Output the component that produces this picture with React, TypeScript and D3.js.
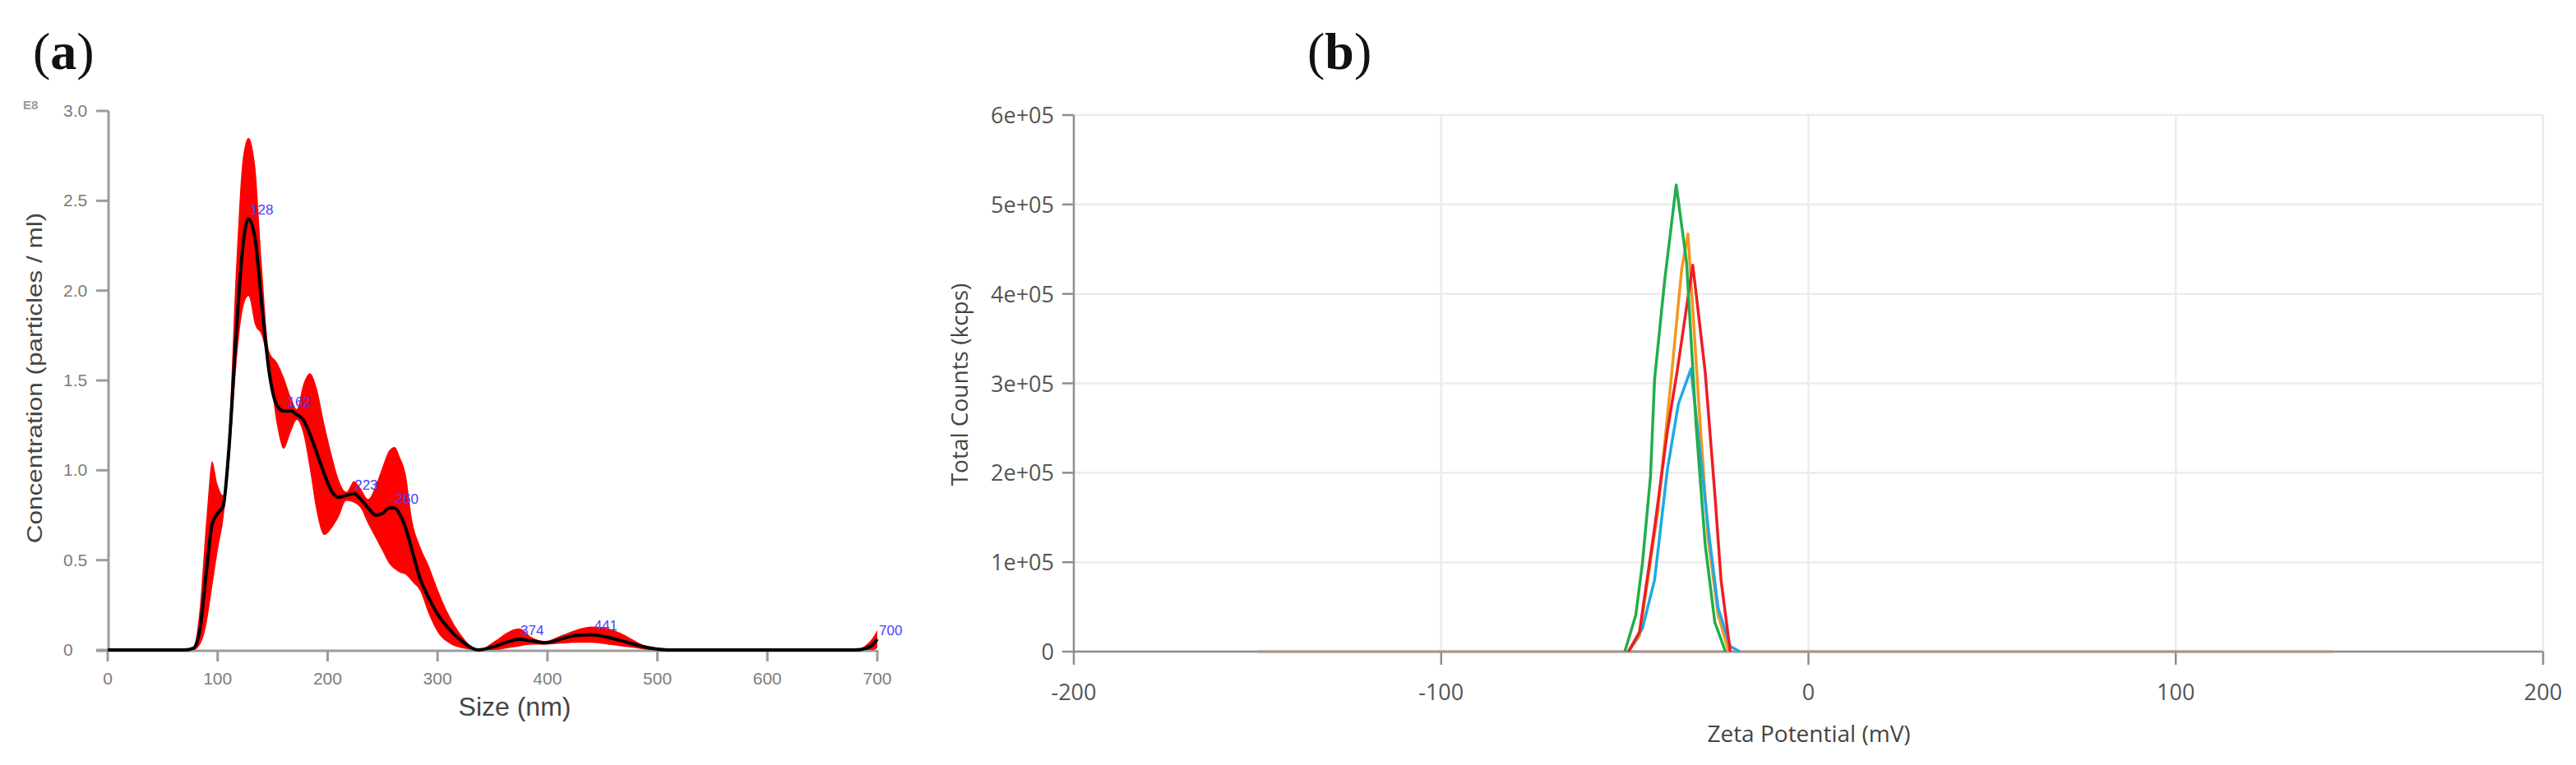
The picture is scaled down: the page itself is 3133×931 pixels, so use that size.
import React from 'react';
import * as d3 from 'd3';

//canvas
const width = 3133;
const height = 931;

// (a) size distribution, concentration in E8 particles / ml
const sizeNm = [0, 70, 78, 84, 90, 95, 100, 105, 110, 117, 123, 128, 134, 140, 147, 154, 160, 167, 172, 178, 184, 190, 197, 204, 210, 217, 224, 230, 237, 244, 250, 256, 261, 266, 271, 277, 284, 292, 300, 310, 322, 337, 352, 364, 374, 386, 398, 412, 425, 440, 455, 468, 480, 494, 510, 600, 680, 690, 696, 700];
const concMean = [0, 0, 0.01, 0.12, 0.45, 0.7, 0.76, 0.8, 1.1, 1.77, 2.25, 2.4, 2.29, 1.93, 1.54, 1.36, 1.33, 1.33, 1.31, 1.28, 1.2, 1.1, 0.98, 0.88, 0.85, 0.86, 0.87, 0.84, 0.79, 0.75, 0.76, 0.79, 0.79, 0.75, 0.68, 0.55, 0.4, 0.29, 0.2, 0.12, 0.05, 0, 0.02, 0.045, 0.06, 0.05, 0.04, 0.06, 0.08, 0.085, 0.07, 0.05, 0.03, 0.01, 0, 0, 0, 0.01, 0.03, 0.06];
const concUpper = [0, 0, 0.02, 0.25, 0.75, 1.05, 0.92, 0.86, 1.19, 2.16, 2.74, 2.85, 2.7, 2.16, 1.66, 1.6, 1.52, 1.4, 1.34, 1.48, 1.54, 1.46, 1.26, 1.08, 0.95, 0.88, 0.94, 0.9, 0.84, 0.92, 1.02, 1.11, 1.13, 1.07, 0.98, 0.72, 0.58, 0.47, 0.34, 0.2, 0.08, 0, 0.05, 0.1, 0.12, 0.07, 0.05, 0.08, 0.11, 0.13, 0.12, 0.09, 0.05, 0.01, 0, 0, 0, 0.03, 0.07, 0.11];
const concLower = [0, 0, 0, 0.03, 0.15, 0.35, 0.55, 0.72, 1.0, 1.58, 1.9, 1.97, 1.81, 1.75, 1.55, 1.25, 1.12, 1.22, 1.28, 1.2, 1.0, 0.77, 0.64, 0.68, 0.74, 0.83, 0.82, 0.79, 0.7, 0.62, 0.55, 0.48, 0.45, 0.43, 0.42, 0.38, 0.33, 0.2, 0.1, 0.04, 0.01, 0, 0, 0.01, 0.02, 0.03, 0.03, 0.035, 0.04, 0.04, 0.03, 0.02, 0.01, 0, 0, 0, 0, 0, 0, 0.01];
const peakSizes = [128, 162, 223, 260, 374, 441, 700];
const peakConc = [2.4, 1.33, 0.87, 0.79, 0.06, 0.085, 0.06];
const sizeTicks = [0, 100, 200, 300, 400, 500, 600, 700];
const concTicks = [0, 0.5, 1, 1.5, 2, 2.5, 3];
const concTickLabels = ['0', '0.5', '1.0', '1.5', '2.0', '2.5', '3.0'];

// (b) zeta potential, total counts
const greenMv = [-50, -47, -45.2, -43, -41.9, -39.2, -36, -33.2, -30.6, -28.1, -25.5, -22.6];
const greenCounts = [0, 41000, 99000, 196000, 304000, 413000, 522000, 436000, 254000, 119000, 33000, 0];
const orangeMv = [-49, -46, -41, -37.5, -34.5, -32.8, -29.8, -27.3, -24.6, -21.7];
const orangeCounts = [0, 18000, 157000, 300000, 428000, 467000, 274000, 126000, 41000, 0];
const redMv = [-49, -46, -41.9, -38.4, -35.8, -31.5, -30.6, -28.1, -25.5, -23.8, -21.3];
const redCounts = [0, 22000, 138000, 247000, 312000, 432000, 401000, 312000, 177000, 80000, 0];
const blueMv = [-49, -45.2, -41.9, -38.4, -35.4, -32, -29.8, -27.3, -24.6, -21.3, -18.7];
const blueCounts = [0, 26000, 80000, 204000, 277000, 316000, 235000, 138000, 49000, 6000, 0];
const baselineMv = [-150, 143];
const zetaTicks = [-200, -100, 0, 100, 200];
const countTicks = [0, 100000, 200000, 300000, 400000, 500000, 600000];
const countTickLabels = ['0', '1e+05', '2e+05', '3e+05', '4e+05', '5e+05', '6e+05'];

//scales
const xA = d3.scaleLinear().domain([0, 700]).range([131, 1067]);
const yA = d3.scaleLinear().domain([0, 3]).range([791, 135]);
const xB = d3.scaleLinear().domain([-200, 200]).range([1306, 3093]);
const yB = d3.scaleLinear().domain([0, 600000]).range([793, 140]);

const bandArea = d3
  .area<number>()
  .x((d, i) => xA(sizeNm[i]))
  .y0((d, i) => yA(concLower[i]))
  .y1((d) => yA(d))
  .curve(d3.curveMonotoneX);

const meanLine = d3
  .line<number>()
  .x((d, i) => xA(sizeNm[i]))
  .y((d) => yA(d))
  .curve(d3.curveMonotoneX);

const zetaLine = (mv: number[], counts: number[]) =>
  d3
    .line<number>()
    .x((d) => xB(d))
    .y((d, i) => yB(counts[i]))(mv);

const zetaSeries = [
  { mv: orangeMv, counts: orangeCounts, color: '#f5961e' },
  { mv: blueMv, counts: blueCounts, color: '#1fa9e6' },
  { mv: redMv, counts: redCounts, color: '#f01c24' },
  { mv: greenMv, counts: greenCounts, color: '#22ad4c' },
];

const fontA = '"Liberation Sans", Arial, sans-serif';
const fontB = '"Open Sans", "Noto Sans", sans-serif';
const axisGrayA = '#9c9c9c';
const axisGrayB = '#8e8e8e';
const gridGray = '#ececec';

const App = () => (
  <svg
    width={width}
    height={height}
    style={{ position: 'absolute', left: 0, top: 0, background: '#fff' }}
  >
    {/* panel letters */}
    <text x={40} y={84} fontFamily='"Liberation Serif", serif' fontSize={64} fill="#111">
      (<tspan fontWeight="bold">a</tspan>)
    </text>
    <text x={1590} y={84} fontFamily='"Liberation Serif", serif' fontSize={64} fill="#111">
      (<tspan fontWeight="bold">b</tspan>)
    </text>

    {/* (a) axes */}
    <g fontFamily={fontA}>
      <text x={28} y={133} fontSize={15} fontWeight="bold" fill="#9a9a9a">E8</text>
      <line x1={132} x2={132} y1={yA(3)} y2={yA(0) + 1} stroke={axisGrayA} strokeWidth={3} />
      <line x1={117} x2={xA(700)} y1={yA(0) + 1} y2={yA(0) + 1} stroke={axisGrayA} strokeWidth={3} />
      {concTicks.map((v, i) => (
        <g key={'ya' + v}>
          <line x1={117} x2={132} y1={yA(v)} y2={yA(v)} stroke={axisGrayA} strokeWidth={3} />
          <text x={77} y={yA(v) + 7} fontSize={21} fill="#7c7c7c">{concTickLabels[i]}</text>
        </g>
      ))}
      {sizeTicks.map((v) => (
        <g key={'xa' + v}>
          <line x1={xA(v)} x2={xA(v)} y1={yA(0)} y2={805} stroke={axisGrayA} strokeWidth={3} />
          <text x={xA(v)} y={833} fontSize={21} fill="#7c7c7c" textAnchor="middle">{v}</text>
        </g>
      ))}
      <text x={626} y={871} fontSize={32} fill="#444" textAnchor="middle">Size (nm)</text>
      <text
        transform="translate(42,460) rotate(-90) scale(1.26,1)"
        fontSize={25}
        fill="#444"
        textAnchor="middle"
        dominantBaseline="central"
      >
        Concentration (particles / ml)
      </text>
    </g>

    {/* (a) data */}
    <path d={bandArea(concUpper) || ''} fill="#ff0000" />
    <path d={meanLine(concMean) || ''} fill="none" stroke="#000" strokeWidth={4} />
    {peakSizes.map((s, i) => (
      <text
        key={'pk' + s}
        x={xA(s) + 2}
        y={yA(peakConc[i]) - 5}
        fontFamily={fontA}
        fontSize={17}
        fill="#4343ff"
      >
        {s}
      </text>
    ))}

    {/* (b) grid and axes */}
    <g fontFamily={fontB}>
      {countTicks.map((v) => (
        <line key={'gy' + v} x1={xB(-200)} x2={xB(200)} y1={yB(v)} y2={yB(v)} stroke={gridGray} strokeWidth={2.5} />
      ))}
      {zetaTicks.slice(1).map((v) => (
        <line key={'gx' + v} x1={xB(v)} x2={xB(v)} y1={yB(600000)} y2={yB(0)} stroke={gridGray} strokeWidth={2.5} />
      ))}
      <line x1={xB(-200)} x2={xB(-200)} y1={yB(600000)} y2={yB(0)} stroke={axisGrayB} strokeWidth={2.5} />
      <line x1={xB(-200)} x2={xB(200)} y1={yB(0)} y2={yB(0)} stroke={axisGrayB} strokeWidth={2.5} />
      {countTicks.map((v, i) => (
        <g key={'yb' + v}>
          <line x1={1292} x2={xB(-200)} y1={yB(v)} y2={yB(v)} stroke={axisGrayB} strokeWidth={2.5} />
          <text x={1282} y={yB(v) + 10} fontSize={27} fill="#555" textAnchor="end">{countTickLabels[i]}</text>
        </g>
      ))}
      {zetaTicks.map((v) => (
        <g key={'xb' + v}>
          <line x1={xB(v)} x2={xB(v)} y1={yB(0)} y2={809} stroke={axisGrayB} strokeWidth={2.5} />
          <text x={xB(v)} y={852} fontSize={27} fill="#555" textAnchor="middle">{v}</text>
        </g>
      ))}
      <text x={2200} y={903} fontSize={28} fill="#444" textAnchor="middle">Zeta Potential (mV)</text>
      <text
        transform="translate(1166,468) rotate(-90)"
        fontSize={28}
        fill="#444"
        textAnchor="middle"
        dominantBaseline="central"
      >
        Total Counts (kcps)
      </text>
    </g>

    {/* (b) data */}
    <line
      x1={xB(baselineMv[0])}
      x2={xB(baselineMv[1])}
      y1={yB(0)}
      y2={yB(0)}
      stroke="#a99486"
      strokeWidth={3}
    />
    {zetaSeries.map((s) => (
      <path
        key={s.color}
        d={zetaLine(s.mv, s.counts) || ''}
        fill="none"
        stroke={s.color}
        strokeWidth={3.5}
        strokeLinejoin="round"
      />
    ))}
  </svg>
);

export default App;
